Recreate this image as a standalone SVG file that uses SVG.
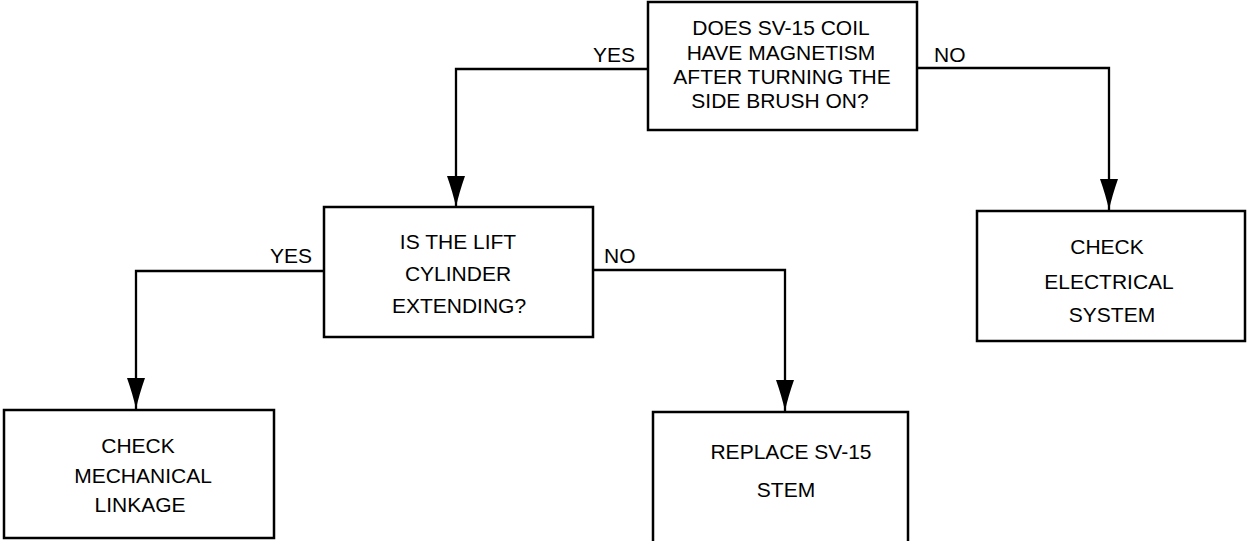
<svg xmlns="http://www.w3.org/2000/svg" width="1247" height="541" viewBox="0 0 1247 541">
  <style>
    .box { fill: #ffffff; stroke: #000000; stroke-width: 2.5; }
    .conn { fill: none; stroke: #000000; stroke-width: 2.3; }
    text { font-family: "Liberation Sans", Arial, Helvetica, sans-serif; font-size: 21px; fill: #000000; }
    .c { text-anchor: middle; }
  </style>
  <defs>
    <marker id="arrow" markerUnits="userSpaceOnUse" markerWidth="34" markerHeight="20" viewBox="-33 -10 34 20" refX="0" refY="0" orient="auto">
      <path d="M0,0 Q-14,-3 -31,-9 L-31,9 Q-14,3 0,0 Z" fill="#000000"/>
    </marker>
  </defs>
  <rect width="1247" height="541" fill="#ffffff"/>

  <g id="connectors">
    <path class="conn" d="M648,69 H456 V207" marker-end="url(#arrow)"/>
    <path class="conn" d="M917,68 H1109 V210" marker-end="url(#arrow)"/>
    <path class="conn" d="M324,271 H136 V409" marker-end="url(#arrow)"/>
    <path class="conn" d="M593,270 H785 V411" marker-end="url(#arrow)"/>
    <text x="635" y="62" text-anchor="end">YES</text>
    <text x="934" y="62">NO</text>
    <text x="312" y="263" text-anchor="end">YES</text>
    <text x="604" y="263">NO</text>
  </g>

  <g id="q1">
    <rect class="box" x="648" y="2" width="269" height="128"/>
    <text class="c" x="781" y="35">DOES SV-15 COIL</text>
    <text class="c" x="781" y="60">HAVE MAGNETISM</text>
    <text class="c" x="782" y="84">AFTER TURNING THE</text>
    <text class="c" x="780" y="108">SIDE BRUSH ON?</text>
  </g>

  <g id="q2">
    <rect class="box" x="324" y="207" width="269" height="130"/>
    <text class="c" x="458" y="249">IS THE LIFT</text>
    <text class="c" x="458" y="281">CYLINDER</text>
    <text class="c" x="459" y="313">EXTENDING?</text>
  </g>

  <g id="electrical">
    <rect class="box" x="977" y="211" width="268" height="130"/>
    <text class="c" x="1107" y="254">CHECK</text>
    <text class="c" x="1109" y="289">ELECTRICAL</text>
    <text class="c" x="1112" y="322">SYSTEM</text>
  </g>

  <g id="mechanical">
    <rect class="box" x="4" y="410" width="270" height="128"/>
    <text class="c" x="138" y="453">CHECK</text>
    <text class="c" x="143" y="483">MECHANICAL</text>
    <text class="c" x="140" y="512">LINKAGE</text>
  </g>

  <g id="replace">
    <rect class="box" x="653" y="412" width="255" height="160"/>
    <text class="c" x="791" y="459">REPLACE SV-15</text>
    <text class="c" x="786" y="497">STEM</text>
  </g>
</svg>
